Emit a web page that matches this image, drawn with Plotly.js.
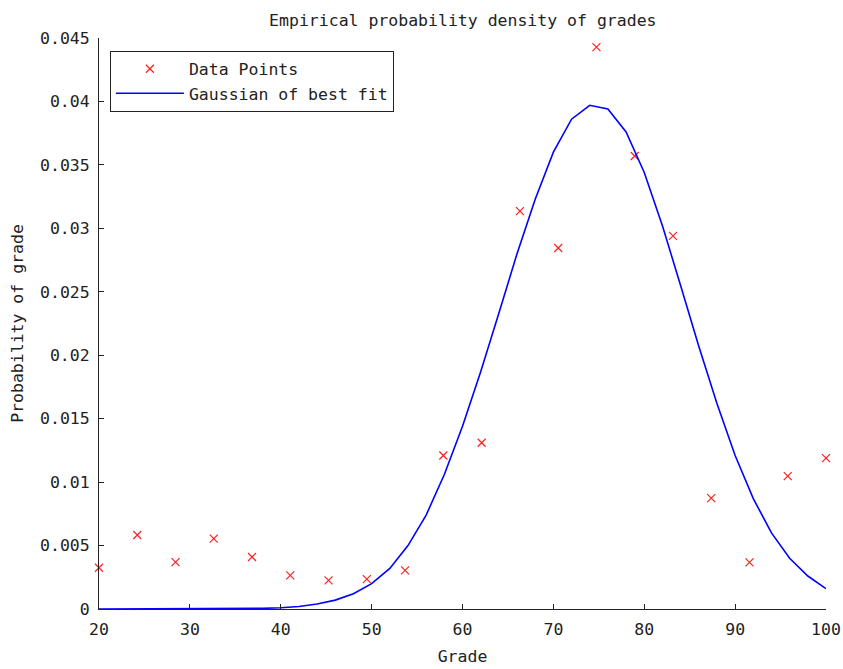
<!DOCTYPE html>
<html>
<head>
<meta charset="utf-8">
<script src="https://cdn.plot.ly/plotly-3.0.1.min.js"></script>
<style>html,body{margin:0;padding:0;background:#fff;}#chart{width:843px;height:669px;}</style>
</head>
<body>
<div id="chart"></div>
<script>
// Empirical data points (grade, probability)
const gradeX = [20, 24.21, 28.42, 32.63, 36.84, 41.05, 45.26, 49.47, 53.68, 57.89,
                62.11, 66.32, 70.53, 74.74, 78.95, 83.16, 87.37, 91.58, 95.79, 100];
const probY = [0.00325, 0.00583, 0.0037, 0.00554, 0.0041, 0.00265, 0.00226, 0.00236, 0.00305, 0.0121,
               0.0131, 0.03136, 0.02845, 0.04428, 0.0357, 0.0294, 0.00874, 0.00368, 0.01047, 0.01189];

// Fitted Gaussian curve
const fitX = [20, 22, 24, 26, 28, 30, 32, 34, 36, 38, 40, 42, 44, 46, 48, 50, 52, 54, 56, 58,
              60, 62, 64, 66, 68, 70, 72, 74, 76, 78, 80, 82, 84, 86, 88, 90, 92, 94, 96, 98, 100];
const fitY = [0, 0, 0, 0, 0, 0, 0.000005, 0.00001, 0.00002, 0.00005, 0.0001, 0.0002, 0.0004, 0.0007, 0.0012,
              0.0020, 0.0032, 0.0050, 0.0074, 0.0106, 0.0144, 0.0187, 0.0233, 0.0280, 0.0323, 0.0360, 0.0386,
              0.0397, 0.0394, 0.0376, 0.0344, 0.0302, 0.0255, 0.0207, 0.0162, 0.0121, 0.0087, 0.0060, 0.0040,
              0.0026, 0.0016];

const yTickVals = [0, 0.005, 0.01, 0.015, 0.02, 0.025, 0.03, 0.035, 0.04, 0.045];
const yTickText = ['0', '0.005', '0.01', '0.015', '0.02', '0.025', '0.03', '0.035', '0.04', '0.045'];
const xTickVals = [20, 30, 40, 50, 60, 70, 80, 90, 100];

const FONT = 'DejaVu Sans Mono, Liberation Mono, monospace';
const FS = 16.5;

const traces = [
  {
    x: gradeX, y: probY, type: 'scatter', mode: 'markers', name: 'Data Points',
    marker: {symbol: 'x-thin', size: 8, color: '#ff0000', line: {color: '#ff2020', width: 1.2}},
    cliponaxis: false
  },
  {
    x: fitX, y: fitY, type: 'scatter', mode: 'lines', name: 'Gaussian of best fit',
    line: {color: '#0000ff', width: 1.6}
  }
];

const axisCommon = {
  showgrid: false, zeroline: false, showline: true, linecolor: '#222', linewidth: 1,
  ticks: 'inside', ticklen: 5, tickcolor: '#222', tickwidth: 1,
  tickfont: {family: FONT, size: FS, color: '#222'}, mirror: false
};

const layout = {
  width: 843, height: 669,
  margin: {l: 99, r: 17, t: 37.5, b: 60},
  paper_bgcolor: '#fff', plot_bgcolor: '#fff',
  font: {family: FONT, size: FS, color: '#222'},
  title: {text: 'Empirical probability density of grades', x: 0.549, xanchor: 'center', y: 0.97, yanchor: 'middle',
          font: {family: FONT, size: FS, color: '#222'}},
  xaxis: Object.assign({}, axisCommon, {
    range: [20, 100], tickvals: xTickVals, ticktext: xTickVals.map(String),
    ticklabelstandoff: 5,
    title: {text: 'Grade', font: {family: FONT, size: FS, color: '#222'}, standoff: 12}
  }),
  yaxis: Object.assign({}, axisCommon, {
    range: [0, 0.045], tickvals: yTickVals, ticktext: yTickText,
    ticklabelstandoff: 5,
    title: {text: 'Probability of grade', font: {family: FONT, size: FS, color: '#222'}, standoff: 12}
  }),
  showlegend: true,
  legend: {
    x: 0.015, y: 0.978, xanchor: 'left', yanchor: 'top',
    bgcolor: '#fff', bordercolor: '#222', borderwidth: 1,
    font: {family: FONT, size: FS, color: '#222'},
    itemwidth: 68, tracegroupgap: 0
  }
};

Plotly.newPlot('chart', traces, layout, {displayModeBar: false, staticPlot: true});
</script>
</body>
</html>
